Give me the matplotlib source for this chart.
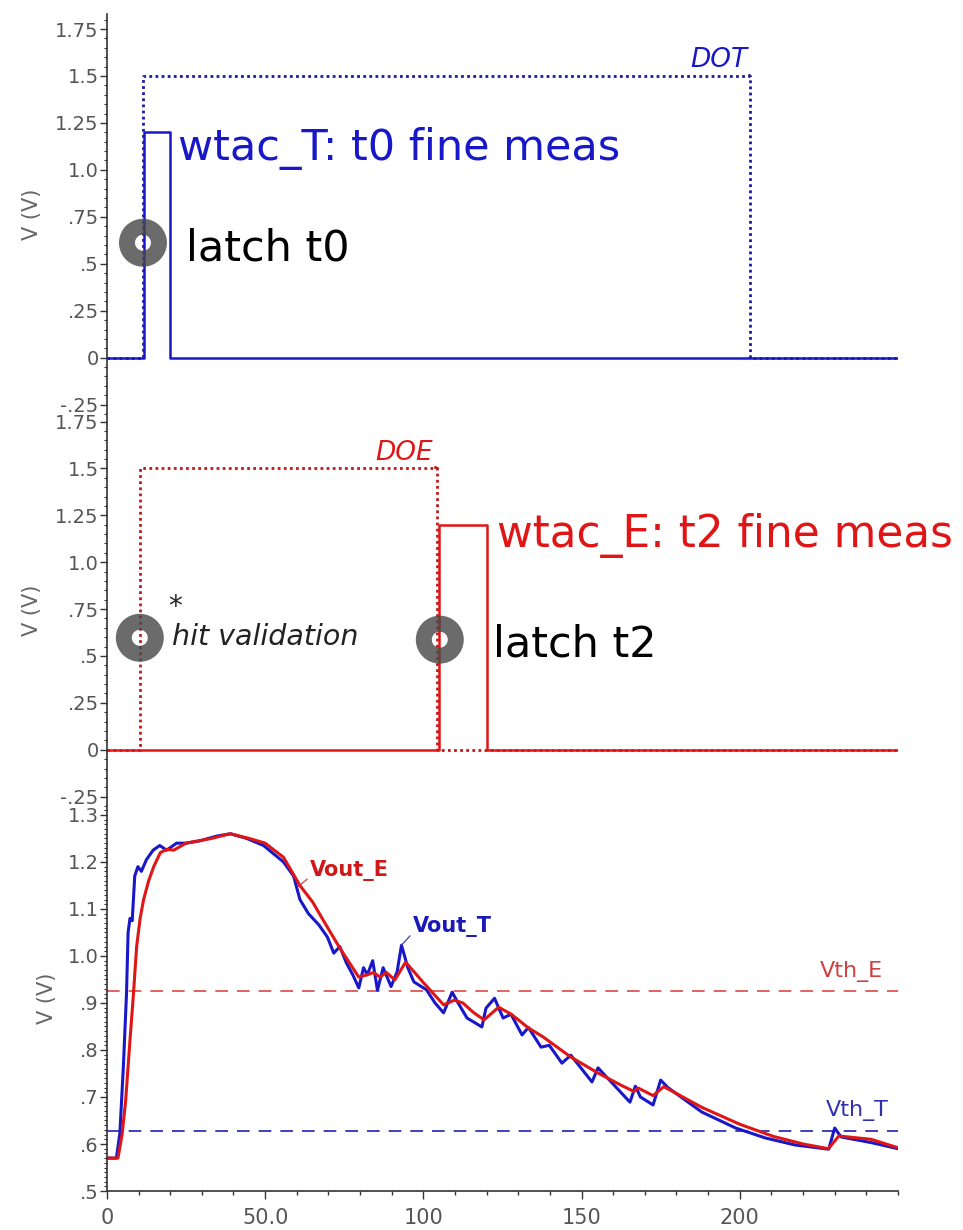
import matplotlib
matplotlib.use("Agg")
import matplotlib.pyplot as plt
from matplotlib.ticker import MultipleLocator, FixedLocator, FixedFormatter

# ---------------- data ----------------
# top panel (wtac_T / DOT), times in ns
dot_t = [0, 11.3, 11.3, 203.2, 203.2, 250]
dot_v = [0, 0, 1.5, 1.5, 0, 0]
wtacT_t = [0, 11.8, 11.8, 19.9, 19.9, 250]
wtacT_v = [0, 0, 1.2, 1.2, 0, 0]
latch_t0 = (11.4, 0.612)

# middle panel (wtac_E / DOE)
doe_t = [0, 10.4, 10.4, 104.4, 104.4, 250]
doe_v = [0, 0, 1.5, 1.5, 0, 0]
wtacE_t = [0, 105.0, 105.0, 120.0, 120.0, 250]
wtacE_v = [0, 0, 1.2, 1.2, 0, 0]
hit_val = (10.4, 0.597)
latch_t2 = (105.2, 0.587)

# bottom panel: analog outputs
voutT_t = [0, 3, 4.1, 5.2, 6.2, 6.7, 7.3, 8.0, 8.8, 9.8,
           10.9, 12.5, 14.6, 16.7, 18.9, 22, 25, 29.4, 34.7, 39,
           44.2, 49.5, 55.8, 59, 61, 63.7, 67, 69.7, 71.7, 73.6,
           75.7, 77.7, 79.6, 81.1, 82.3, 84, 85.5, 87.3, 89.8, 91.7,
           93.1, 95.1, 97, 101, 103.7, 106.4, 109.1, 111, 113.8, 115.8,
           118.5, 119.8, 122.5, 125.2, 127.7, 131.2, 133.2, 137.2, 139.8, 143.8,
           146.6, 153.3, 155.2, 165.3, 167, 168.6, 172.6, 175, 177.3, 188,
           198.7, 208, 217.4, 228.1, 230, 232, 241.5, 250]
voutT_v = [0.570, 0.570, 0.623, 0.764, 0.92, 1.05, 1.08, 1.075, 1.17, 1.19,
           1.18, 1.205, 1.225, 1.235, 1.225, 1.24, 1.24, 1.245, 1.255, 1.26,
           1.25, 1.235, 1.2, 1.17, 1.12, 1.09, 1.066, 1.04, 1.006, 1.02,
           0.985, 0.96, 0.932, 0.975, 0.96, 0.99, 0.927, 0.975, 0.935, 0.966,
           1.023, 0.975, 0.945, 0.928, 0.90, 0.879, 0.923, 0.90, 0.868, 0.86,
           0.849, 0.889, 0.91, 0.868, 0.876, 0.832, 0.848, 0.806, 0.81, 0.772,
           0.789, 0.732, 0.762, 0.689, 0.723, 0.70, 0.683, 0.736, 0.72, 0.668,
           0.634, 0.613, 0.598, 0.589, 0.634, 0.615, 0.603, 0.59]
voutE_t = [0, 3.5, 4.8, 5.9, 7.4, 8.4, 9.4, 10.5, 11.6, 13.2,
           14.8, 16.9, 19, 21.1, 25, 33, 39, 45, 50, 55.8,
           61, 65, 68.9, 73.6, 76.2, 79.6, 82.3, 84.3, 86.3, 88.3,
           91, 94.4, 99.8, 106.4, 109.8, 112.5, 115.8, 119.2, 123.8, 127.8,
           133.2, 137.8, 146.6, 155.2, 162.5, 166.5, 167.9, 172.6, 176, 188,
           200, 210.7, 220, 228, 231.3, 241.5, 250]
voutE_v = [0.57, 0.57, 0.62, 0.69, 0.83, 0.92, 1.02, 1.08, 1.12, 1.16,
           1.19, 1.22, 1.227, 1.225, 1.24, 1.25, 1.26, 1.25, 1.24, 1.21,
           1.15, 1.115, 1.07, 1.017, 0.99, 0.955, 0.96, 0.965, 0.955, 0.965,
           0.949, 0.987, 0.945, 0.896, 0.906, 0.90, 0.88, 0.864, 0.891, 0.876,
           0.847, 0.828, 0.785, 0.751, 0.725, 0.712, 0.719, 0.703, 0.722, 0.678,
           0.642, 0.616, 0.60, 0.59, 0.617, 0.61, 0.592]
vth_E = 0.925
vth_T = 0.628

# ticks
pulse_ticks = [-0.25, 0, 0.25, 0.5, 0.75, 1.0, 1.25, 1.5, 1.75]
pulse_labels = ['-.25', '0', '.25', '.5', '.75', '1.0', '1.25', '1.5', '1.75']
analog_ticks = [0.5, 0.6, 0.7, 0.8, 0.9, 1.0, 1.1, 1.2, 1.3]
analog_labels = ['.5', '.6', '.7', '.8', '.9', '1.0', '1.1', '1.2', '1.3']
x_ticks = [0, 50, 100, 150, 200]
x_labels = ['0', '50.0', '100', '150', '200']

# ---------------- style ----------------
BLUE = '#1818c8'
RED = '#e01515'
GRAY_TXT = '#555555'
DONUT = '#4a4a4a'

plt.rcParams['font.family'] = ['DejaVu Sans']

fig = plt.figure(figsize=(9.63, 12.30), dpi=100)
L, W = 0.111, 0.8215
ax1 = fig.add_axes([L, 0.6634, W, 0.3252])
ax2 = fig.add_axes([L, 0.3447, W, 0.3187])
ax3 = fig.add_axes([L, 0.0317, W, 0.3130])


def style_axis(ax, ticks, labels, minor, label_x):
    for s in ['top', 'right', 'bottom']:
        ax.spines[s].set_visible(False)
    ax.spines['left'].set_color('#333333')
    ax.spines['left'].set_linewidth(1.2)
    ax.set_xlim(0, 250)
    ax.yaxis.set_major_locator(FixedLocator(ticks))
    ax.yaxis.set_major_formatter(FixedFormatter(labels))
    ax.yaxis.set_minor_locator(MultipleLocator(minor))
    ax.tick_params(axis='y', which='major', direction='out', length=5,
                   width=1, colors='#333333', labelcolor=GRAY_TXT,
                   labelsize=14, pad=1)
    ax.tick_params(axis='y', which='minor', direction='out', length=2.5,
                   width=0.8, colors='#333333')
    ax.set_ylabel('V (V)', fontsize=15, color='#666666')
    ax.yaxis.set_label_coords(label_x, 0.5)


def donut(ax, pt):
    ax.scatter([pt[0]], [pt[1]], s=530, marker='o', facecolors='none',
               edgecolors=DONUT, linewidths=11.5, alpha=0.82, zorder=5,
               clip_on=False)


# ---- top panel ----
style_axis(ax1, pulse_ticks, pulse_labels, 0.05, -0.082)
ax1.set_ylim(-0.3, 1.83)
ax1.set_xticks([])
ax1.plot(dot_t, dot_v, color='#1a1aa0', lw=2.0, ls=(0, (1, 1.2)))
ax1.plot(wtacT_t, wtacT_v, color=BLUE, lw=1.8)
donut(ax1, latch_t0)
ax1.text(22.4, 1.053, 'wtac_T: t0 fine meas', color=BLUE, fontsize=31,
         va='baseline', ha='left')
ax1.text(25.0, 0.52, 'latch t0', color='black', fontsize=31,
         va='baseline', ha='left')
ax1.annotate('DOT', xy=(dot_t[3], dot_v[3]), xytext=(dot_t[3] - 0.8, 1.55),
             color=BLUE, fontsize=19, fontstyle='italic', ha='right',
             va='baseline',
             arrowprops=dict(arrowstyle='-', color='#1a1aa0', lw=2,
                             ls=':', relpos=(1, 0), shrinkA=0, shrinkB=0))

# ---- middle panel ----
style_axis(ax2, pulse_ticks, pulse_labels, 0.05, -0.082)
ax2.set_ylim(-0.3, 1.79)
ax2.set_xticks([])
ax2.plot(doe_t, doe_v, color='#c01818', lw=2.0, ls=(0, (1, 1.2)))
ax2.plot(wtacE_t, wtacE_v, color=RED, lw=1.8)
donut(ax2, hit_val)
donut(ax2, latch_t2)
ax2.text(20.5, 0.56, 'hit validation', color='#222222', fontsize=20.5,
         fontstyle='italic', va='baseline', ha='left')
ax2.text(21.5, 0.72, '*', color='#222222', fontsize=20, va='baseline',
         ha='center')
ax2.text(123.3, 1.083, 'wtac_E: t2 fine meas', color=RED, fontsize=31.5,
         va='baseline', ha='left')
ax2.text(122.0, 0.496, 'latch t2', color='black', fontsize=31,
         va='baseline', ha='left')
ax2.annotate('DOE', xy=(doe_t[3], doe_v[3]), xytext=(doe_t[3] - 1.5, 1.545),
             color=RED, fontsize=19, fontstyle='italic', ha='right',
             va='baseline',
             arrowprops=dict(arrowstyle='-', color='#c01818', lw=2,
                             ls=':', relpos=(1, 0), shrinkA=0, shrinkB=0))

# ---- bottom panel ----
style_axis(ax3, analog_ticks, analog_labels, 0.01, -0.063)
ax3.set_ylim(0.5, 1.319)
ax3.spines['bottom'].set_visible(True)
ax3.spines['bottom'].set_color('#333333')
ax3.spines['bottom'].set_linewidth(1.2)
ax3.xaxis.set_major_locator(FixedLocator(x_ticks))
ax3.xaxis.set_major_formatter(FixedFormatter(x_labels))
ax3.xaxis.set_minor_locator(MultipleLocator(10))
ax3.tick_params(axis='x', which='major', direction='out', length=6,
                width=1, colors='#333333', labelcolor=GRAY_TXT,
                labelsize=15, pad=6)
ax3.tick_params(axis='x', which='minor', direction='out', length=3,
                width=1, colors='#333333')

ax3.axhline(vth_E, color='#e05555', lw=1.3, ls=(0, (7, 5)))
ax3.axhline(vth_T, color='#3030b8', lw=1.3, ls=(0, (7, 5)))
ax3.plot(voutT_t, voutT_v, color=BLUE, lw=2.2)
ax3.plot(voutE_t, voutE_v, color=RED, lw=2.2)

ax3.annotate('Vout_E', xy=(60.5, 1.148), xytext=(64.2, 1.17),
             color='#d01818', fontsize=15, fontweight='bold',
             ha='left', va='baseline',
             arrowprops=dict(arrowstyle='-', color='#d04040', lw=0.9,
                             relpos=(0, 0.2), shrinkA=0, shrinkB=0))
ax3.annotate('Vout_T', xy=(93.1, 1.023), xytext=(96.7, 1.051),
             color='#1a1ab8', fontsize=15, fontweight='bold',
             ha='left', va='baseline',
             arrowprops=dict(arrowstyle='-', color='#4040c0', lw=0.9,
                             relpos=(0, 0.2), shrinkA=0, shrinkB=0))
ax3.text(225.3, 0.955, 'Vth_E', color='#d04040', fontsize=16,
         va='baseline', ha='left')
ax3.text(227.2, 0.66, 'Vth_T', color='#3030b0', fontsize=16,
         va='baseline', ha='left')

fig.savefig('out.png', dpi=100)
